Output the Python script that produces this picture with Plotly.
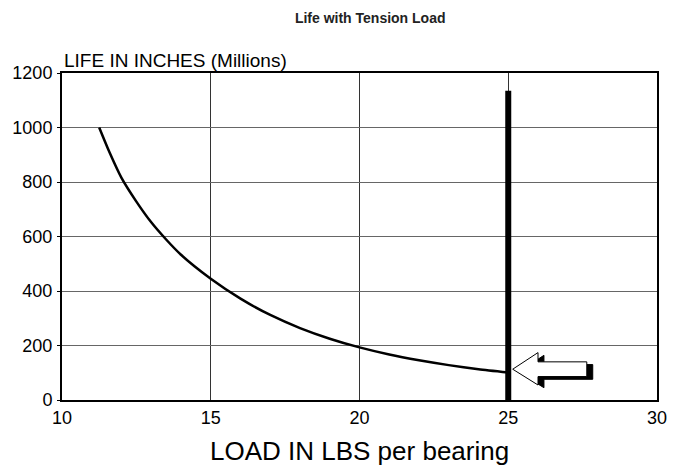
import plotly.graph_objects as go

load = [11.25, 11.6, 12.0, 12.5, 13.0, 13.5, 14.0, 15.0, 16.0, 17.0, 18.0, 19.0, 20.0, 21.0, 22.0, 23.0, 24.0, 25.0]
life = [1000, 908, 815, 728, 652, 589, 533, 445, 372, 312, 264, 225, 193, 167, 146, 128, 113, 101]
limit_load = 25
limit_top = 1135
x_ticks = [10, 15, 20, 25, 30]
y_ticks = [0, 200, 400, 600, 800, 1000, 1200]

FONT = "Liberation Sans, Arial, sans-serif"

fig = go.Figure()
fig.add_trace(go.Scatter(x=load, y=life, mode="lines", line=dict(color="black", width=2.5, shape="spline", smoothing=0.6),
                         showlegend=False, hoverinfo="skip"))
fig.add_trace(go.Scatter(x=[limit_load, limit_load], y=[0, limit_top], mode="lines",
                         line=dict(color="black", width=6), showlegend=False, hoverinfo="skip"))

# block arrow pointing at the limit bar (shadow then white body)
arrow = [(25.15, 113), (26.0, 174), (26.0, 140), (27.64, 140), (27.64, 86), (26.0, 86), (26.0, 55)]
def path(pts, dx=0.0, dy=0.0):
    return "M " + " L ".join(f"{x+dx},{y+dy}" for x, y in pts) + " Z"
fig.add_shape(type="path", path=path(arrow, 0.2, -10), xref="x", yref="y",
              fillcolor="black", line=dict(color="black", width=1))
fig.add_shape(type="path", path=path(arrow), xref="x", yref="y",
              fillcolor="white", line=dict(color="black", width=1))

fig.update_layout(
    width=678, height=465,
    margin=dict(l=62, r=21, t=73, b=65),
    paper_bgcolor="white", plot_bgcolor="white",
    font=dict(family=FONT, color="black", size=18),
    title=dict(text="<b>Life with Tension Load</b>", x=0.546, xanchor="center", y=0.962, yanchor="middle",
               font=dict(size=14, family=FONT, color="#222")),
    xaxis=dict(range=[10, 30], tickvals=x_ticks, showgrid=True, gridcolor="#333", gridwidth=1,
               showline=True, linecolor="black", linewidth=2, mirror=True, zeroline=False,
               ticks="", tickfont=dict(size=18), ticklabelstandoff=0, automargin=False),
    yaxis=dict(range=[0, 1200], tickvals=y_ticks, showgrid=True, gridcolor="#666", gridwidth=1,
               showline=True, linecolor="black", linewidth=2, mirror=True, zeroline=False,
               ticks="outside", ticklen=3, tickcolor="black", tickfont=dict(size=18), automargin=False,
               ticklabelstandoff=1),
    annotations=[
        dict(text="LIFE IN INCHES (Millions)", xref="paper", yref="paper", x=0, y=1,
             xanchor="left", yanchor="bottom", yshift=0, showarrow=False, font=dict(size=19)),
        dict(text="LOAD IN LBS per bearing", xref="paper", yref="paper", x=0.5, y=0, yshift=-51,
             xanchor="center", yanchor="middle", showarrow=False, font=dict(size=26)),
    ],
)

fig.write_html("out.html", config={"displayModeBar": False},
               post_script="document.body.style.margin='0px';document.body.style.padding='0px';")
